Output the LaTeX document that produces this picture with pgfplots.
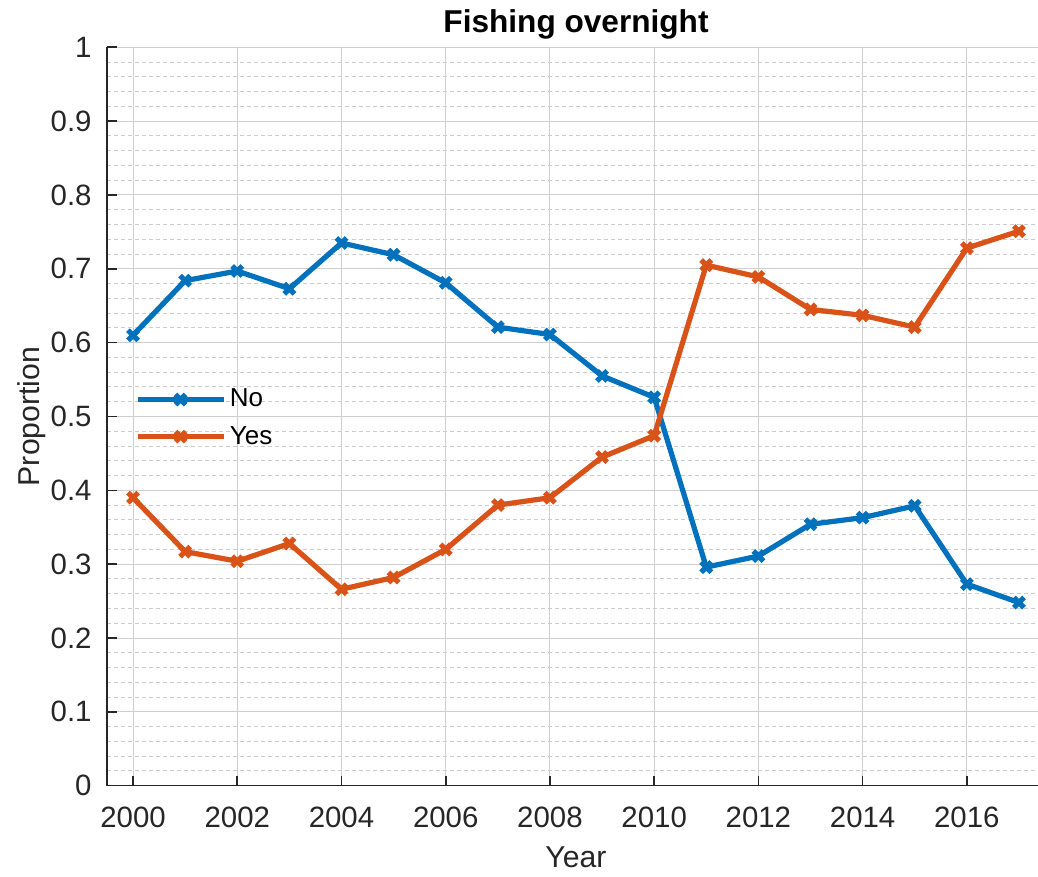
\documentclass[border=0pt]{standalone}
\usepackage{pgfplots}
\pgfplotsset{compat=1.18}
\usepackage{fontspec}
\setmainfont{Liberation Sans}

\definecolor{mblue}{rgb}{0,0.447,0.741}
\definecolor{morange}{rgb}{0.85,0.325,0.098}
\definecolor{axgray}{rgb}{0.15,0.15,0.15}

\pgfplotstableread{
year  no     yes
2000  0.610  0.390
2001  0.684  0.317
2002  0.697  0.304
2003  0.673  0.328
2004  0.735  0.266
2005  0.719  0.282
2006  0.681  0.320
2007  0.621  0.380
2008  0.611  0.390
2009  0.555  0.445
2010  0.526  0.474
2011  0.296  0.705
2012  0.311  0.689
2013  0.354  0.645
2014  0.363  0.637
2015  0.379  0.621
2016  0.273  0.728
2017  0.248  0.751
}\fishing

\begin{document}
\begin{tikzpicture}
\begin{axis}[
  scale only axis,
  width=469pt, height=369.2pt,
  xmin=1999.5, xmax=2017.5,
  ymin=0, ymax=1,
  axis x line*=bottom, axis y line*=left,
  axis line style={axgray, line width=0.8pt, -},
  xtick={2000,2002,...,2016},
  ytick={0,0.1,...,1},
  minor x tick num=3,
  minor y tick num=4,
  tick align=inside,
  major tick length=4.8pt,
  minor tick length=0pt,
  tick style={axgray, line width=0.8pt},
  grid=both,
  major grid style={black!19, line width=0.5pt, solid},
  minor grid style={black!20, line width=0.5pt, dash pattern=on 2pt off 1.5pt},
  /pgf/number format/assume math mode=true,
  xticklabel={\pgfmathprintnumber[1000 sep={},fixed]{\tick}},
  yticklabel={\pgfmathprintnumber[fixed,precision=1]{\tick}},
  ticklabel style={font=\fontsize{14.7}{17}\selectfont, text=axgray},
  xticklabel style={anchor=base, inner sep=0pt, yshift=-21pt},
  yticklabel style={anchor=east, inner sep=0pt, xshift=-7.5pt},
  title={Fishing overnight},
  title style={font=\fontsize{15.8}{19}\selectfont\bfseries, at={(axis description cs:0.5,1)}, anchor=base, yshift=1.6pt},
  xlabel={Year},
  xlabel style={font=\fontsize{15.1}{18}\selectfont, text=axgray, at={(axis description cs:0.5,0)}, anchor=base, yshift=-41pt},
  ylabel={Proportion},
  ylabel style={font=\fontsize{15.1}{18}\selectfont, text=axgray, at={(axis description cs:0,0.5)}, anchor=base, yshift=33.5pt},
  legend style={at={(axis cs:2000.03,0.5425)}, anchor=north west, draw=none, fill=none,
    font=\fontsize{13}{15}\selectfont, row sep=4.5pt, inner sep=0pt,
    nodes={inner sep=1.8pt}},
  legend cell align=left,
  legend image code/.code={\draw[mark repeat=2,mark phase=2,#1] plot coordinates {(0pt,0pt) (21.5pt,0pt) (43pt,0pt)};},
  every axis plot/.append style={line width=2.6pt, mark=x, mark size=3.6pt},
]
\addplot[mblue] table[x=year, y=no] {\fishing};
\addlegendentry{No}
\addplot[morange] table[x=year, y=yes] {\fishing};
\addlegendentry{Yes}
\coordinate (SW) at (rel axis cs:0,0);
\coordinate (NE) at (rel axis cs:1,1);
\end{axis}
\pgfresetboundingbox
\path[use as bounding box] ([shift={(-53.5pt,-45.5pt)}]SW) rectangle ([shift={(-3.5pt,23.65pt)}]NE);
\end{tikzpicture}
\end{document}
